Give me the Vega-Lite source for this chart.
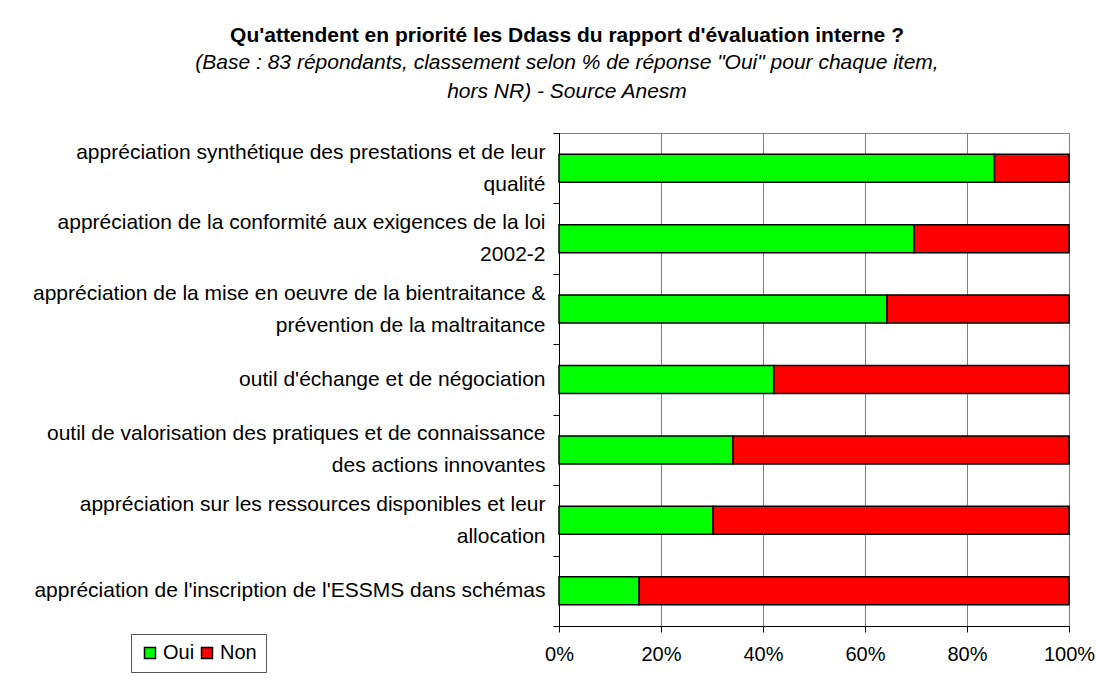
{
  "$schema": "https://vega.github.io/schema/vega-lite/v6.json",
  "width": 510,
  "height": 493,
  "autosize": {"type": "none"},
  "padding": {"left": 559, "top": 133, "right": 28, "bottom": 63},
  "background": "white",
  "title": {
    "text": "Qu'attendent en priorité les Ddass du rapport d'évaluation interne ?",
    "subtitle": ["(Base : 83 répondants, classement selon % de réponse \"Oui\" pour chaque item,", "hors NR) - Source Anesm"],
    "anchor": "middle",
    "frame": "group",
    "dx": -247,
    "offset": 20,
    "font": "Liberation Sans",
    "fontSize": 21,
    "fontWeight": "bold",
    "color": "black",
    "subtitleFont": "Liberation Sans",
    "subtitleFontSize": 21,
    "subtitleFontStyle": "italic",
    "subtitleColor": "black",
    "subtitleLineHeight": 29,
    "subtitlePadding": 6
  },
  "data": {
    "values": [
      {"item": "appréciation synthétique des prestations et de leur\nqualité", "reponse": "Oui", "pct": 85.4},
      {"item": "appréciation synthétique des prestations et de leur\nqualité", "reponse": "Non", "pct": 14.6},
      {"item": "appréciation de la conformité aux exigences de la loi\n2002-2", "reponse": "Oui", "pct": 69.6},
      {"item": "appréciation de la conformité aux exigences de la loi\n2002-2", "reponse": "Non", "pct": 30.4},
      {"item": "appréciation de la mise en oeuvre de la bientraitance &\nprévention de la maltraitance", "reponse": "Oui", "pct": 64.3},
      {"item": "appréciation de la mise en oeuvre de la bientraitance &\nprévention de la maltraitance", "reponse": "Non", "pct": 35.7},
      {"item": "outil d'échange et de négociation", "reponse": "Oui", "pct": 42.1},
      {"item": "outil d'échange et de négociation", "reponse": "Non", "pct": 57.9},
      {"item": "outil de valorisation des pratiques et de connaissance\ndes actions innovantes", "reponse": "Oui", "pct": 34.1},
      {"item": "outil de valorisation des pratiques et de connaissance\ndes actions innovantes", "reponse": "Non", "pct": 65.9},
      {"item": "appréciation sur les ressources disponibles et leur\nallocation", "reponse": "Oui", "pct": 30.2},
      {"item": "appréciation sur les ressources disponibles et leur\nallocation", "reponse": "Non", "pct": 69.8},
      {"item": "appréciation de l'inscription de l'ESSMS dans schémas", "reponse": "Oui", "pct": 15.7},
      {"item": "appréciation de l'inscription de l'ESSMS dans schémas", "reponse": "Non", "pct": 84.3}
    ]
  },
  "mark": {"type": "bar", "size": 28, "stroke": "black", "strokeWidth": 1.5},
  "encoding": {
    "y": {
      "field": "item",
      "type": "nominal",
      "sort": null,
      "scale": {"paddingInner": 0, "paddingOuter": 0},
      "axis": {
        "title": null,
        "labelExpr": "indexof(datum.label, '\\n') >= 0 ? [split(datum.label, '\\n')[0], '\u200b', split(datum.label, '\\n')[1]] : ['\u200b', datum.label]",
        "labelAlign": "right",
        "labelBaseline": "middle",
        "labelPadding": 8,
        "labelLineHeight": 16,
        "labelOffset": -16,
        "tickBand": "extent",
        "tickSize": 6,
        "tickColor": "black",
        "domainColor": "black",
        "grid": false,
        "labelFont": "Liberation Sans",
        "labelFontSize": 21,
        "labelColor": "black",
        "labelLimit": 0
      }
    },
    "x": {
      "field": "pct",
      "type": "quantitative",
      "stack": "normalize",
      "scale": {"domain": [0, 1]},
      "axis": {
        "title": null,
        "values": [0, 0.2, 0.4, 0.6, 0.8, 1],
        "format": ".0%",
        "grid": true,
        "gridColor": "#808080",
        "gridOpacity": 1,
        "tickColor": "black",
        "domainColor": "black",
        "tickSize": 6,
        "labelFlush": false,
        "labelFont": "Liberation Sans",
        "labelFontSize": 20,
        "labelPadding": 12,
        "labelColor": "black"
      }
    },
    "color": {
      "field": "reponse",
      "type": "nominal",
      "scale": {"domain": ["Oui", "Non"], "range": ["#00ff00", "#ff0000"]},
      "legend": {
        "title": null,
        "orient": "none",
        "legendX": -428,
        "legendY": 501,
        "direction": "horizontal",
        "strokeColor": "#555555",
        "padding": 9,
        "symbolType": "square",
        "symbolSize": 121,
        "symbolStrokeColor": "black",
        "symbolStrokeWidth": 1.5,
        "labelFont": "Liberation Sans",
        "labelFontSize": 20,
        "labelColor": "black",
        "columnPadding": 2,
        "labelOffset": 3
      }
    },
    "order": {"field": "reponse", "sort": "descending"}
  },
  "config": {
    "font": "Liberation Sans",
    "view": {"stroke": "#808080", "strokeWidth": 1}
  }
}
